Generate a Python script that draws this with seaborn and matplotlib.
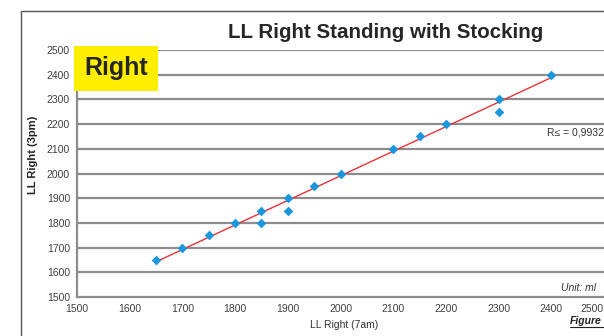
import matplotlib
matplotlib.use("Agg")
import matplotlib.pyplot as plt
import seaborn as sns
import pandas as pd
from matplotlib.patches import Rectangle

x_7am = [1650, 1700, 1750, 1800, 1850, 1850, 1900, 1900, 1950, 2000, 2100, 2150, 2200, 2300, 2300, 2400]
y_3pm = [1650, 1700, 1750, 1800, 1850, 1800, 1900, 1850, 1950, 2000, 2100, 2150, 2200, 2300, 2250, 2400]
ticks = [1500, 1600, 1700, 1800, 1900, 2000, 2100, 2200, 2300, 2400, 2500]

df = pd.DataFrame({"x": x_7am, "y": y_3pm})

sns.set_theme(style="white")
plt.rcParams['font.family'] = ['Liberation Sans', 'DejaVu Sans']

fig = plt.figure(figsize=(6.04, 3.36), dpi=100)
ax = fig.add_axes([77/604, 1-297/336, 1-77/604, (297-50)/336])

grid_c = "#8c8c8c"
for t in ticks[1:]:
    ax.axhline(t, color=grid_c, lw=1.6, zorder=0)

sns.regplot(data=df, x="x", y="y", ax=ax, ci=None, truncate=True, marker="D",
            scatter_kws=dict(s=24, color="#1a96dc", alpha=1, linewidths=0, zorder=3),
            line_kws=dict(color="#e8323a", lw=1.0, zorder=2))

ax.set_xlim(1500, 2500)
ax.set_ylim(1500, 2500)
ax.set_xticks(ticks)
ax.set_yticks(ticks)
ax.set_xticklabels([str(t) for t in ticks])
ax.tick_params(axis="both", labelsize=7.5, colors="#404040", length=3, width=1, direction="out", pad=2)
ax.tick_params(axis="both", color=grid_c)
ax.get_xticklabels()[-1].set_horizontalalignment("right")
for s in ["top", "right"]:
    ax.spines[s].set_visible(False)
for s in ["left", "bottom"]:
    ax.spines[s].set_color(grid_c)
    ax.spines[s].set_linewidth(1.6)
ax.set_xlabel("")
ax.set_ylabel("")

fig.text(344/604, 1-325/336, "LL Right (7am)", ha="center", va="center", fontsize=7.5, color="#333333")
fig.text(33/604, 1-155/336, "LL Right (3pm)", ha="center", va="center", rotation=90,
         fontsize=8, fontweight="bold", color="#222222")
fig.text(386/604, 1-33/336, "LL Right Standing with Stocking", ha="center", va="center",
         fontsize=14.8, fontweight="bold", color="#262626")
fig.text(116/604, 1-68/336, "Right", ha="center", va="center", fontsize=18, fontweight="bold",
         color="#262626", bbox=dict(boxstyle="square,pad=0.42", fc="#ffee00", ec="none"))
fig.text(604/604, 1-133/336, "R≤ = 0,9932", ha="right", va="center", fontsize=7.5, color="#333333")
fig.text(596/604, 1-288/336, "Unit: ml", ha="right", va="center", fontsize=7.5, style="italic", color="#333333")
fig.text(570/604, 1-321/336, "Figure", ha="left", va="center", fontsize=7.5, style="italic",
         fontweight="bold", color="#222222")
fig.add_artist(plt.Line2D([570/604, 1.0], [1-327/336, 1-327/336], color="#222222", lw=0.8))

top = 1 - 11/336
fig.add_artist(Rectangle((21/604, -0.2), 1.2, top + 0.2, transform=fig.transFigure,
                         fill=False, ec="#555555", lw=1.0))

fig.savefig("out.png", dpi=100)
